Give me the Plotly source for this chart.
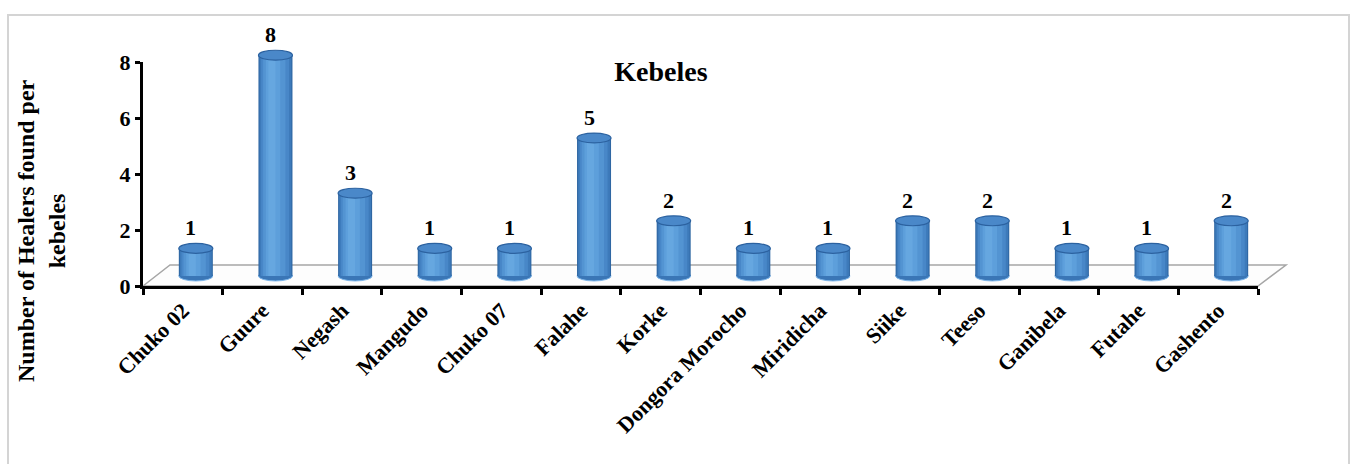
import plotly.graph_objects as go

categories = ["Chuko 02", "Guure", "Negash", "Mangudo", "Chuko 07", "Falahe", "Korke",
              "Dongora Morocho", "Miridicha", "Siike", "Teeso", "Ganibela", "Futahe", "Gashento"]
healers = [1, 8, 3, 1, 1, 5, 2, 1, 1, 2, 2, 1, 1, 2]
y_ticks = [0, 2, 4, 6, 8]
chart_title = "Kebeles"
y_title = "Number of Healers found per<br>kebeles"

W, H = 1351, 464


def px(x):
    return x / W


def py(y):
    return 1 - y / H


FONT = "Liberation Serif, Times New Roman, serif"
n = len(categories)
BAR_W = 0.427
CAP_H = 0.18

fig = go.Figure()

# invisible trace to build the visible categorical axis
fig.add_trace(go.Scatter(x=categories, y=[0] * n, mode="markers", marker=dict(opacity=0),
                         hoverinfo="skip", showlegend=False, xaxis="x", yaxis="y"))

# cylinder bodies: layered bars give a shaded look
layers = [(BAR_W, "#2f67a3", 0.0), (0.40, "#3d7aba", 0.0), (0.35, "#4887c8", -0.005),
          (0.28, "#5394d2", -0.015), (0.18, "#5d9fdb", -0.03), (0.09, "#66a7e0", -0.045)]
for w, c, off in layers:
    fig.add_trace(go.Bar(x=categories, y=healers, width=w, offset=-w / 2 + off,
                         marker=dict(color=c, line=dict(width=0)),
                         xaxis="x2", yaxis="y2", hoverinfo="skip", showlegend=False))

shapes = []
# outer border
shapes.append(dict(type="rect", xref="paper", yref="paper", x0=px(8), x1=px(1349),
                   y0=-0.1, y1=py(15), line=dict(color="#d4d4d4", width=2), layer="below"))
# floor plane
shapes.append(dict(type="path", xref="paper", yref="paper",
                   path=f"M {px(143)},{py(286)} L {px(170)},{py(265)} L {px(1286)},{py(265)} L {px(1258)},{py(286)} Z",
                   line=dict(color="#a6a6a6", width=1.5), fillcolor="#fdfdfd", layer="below"))

for i, v in enumerate(healers):
    # bottom ellipse of cylinder
    shapes.append(dict(type="circle", xref="x2", yref="y2", x0=i - BAR_W / 2, x1=i + BAR_W / 2,
                       y0=-CAP_H, y1=CAP_H, fillcolor="#3a76b6",
                       line=dict(color="#7db6ea", width=1), layer="below"))
    # top cap
    shapes.append(dict(type="circle", xref="x2", yref="y2", x0=i - BAR_W / 2, x1=i + BAR_W / 2,
                       y0=v - CAP_H, y1=v + CAP_H, fillcolor="#4a88c9",
                       line=dict(color="#2c62a0", width=1.2), layer="above"))

annotations = []
for i, v in enumerate(healers):
    annotations.append(dict(x=i, y=v, xref="x2", yref="y2", text=str(v), showarrow=False,
                            yanchor="bottom", xanchor="center", yshift=6, xshift=-5,
                            font=dict(family=FONT, size=22, color="black", weight="bold")))

annotations.append(dict(x=px(42), y=py(231), xref="paper", yref="paper", text=y_title,
                        textangle=-90, showarrow=False, xanchor="center", yanchor="middle",
                        font=dict(family=FONT, size=24, color="black", weight="bold")))

fig.update_layout(
    width=W, height=H,
    margin=dict(l=0, r=0, t=0, b=0),
    paper_bgcolor="white", plot_bgcolor="rgba(0,0,0,0)",
    title=dict(text=chart_title, x=px(661), y=py(71), xref="paper", yref="paper",
               xanchor="center", yanchor="middle",
               font=dict(family=FONT, size=28, color="black", weight="bold")),
    barmode="overlay",
    showlegend=False,
    shapes=shapes,
    annotations=annotations,
    xaxis=dict(domain=[px(143), px(1258)], type="category", range=[-0.5, n - 0.5],
               showline=True, linewidth=3, linecolor="black", showgrid=False, zeroline=False,
               ticks="outside", tickson="boundaries", ticklen=6, tickwidth=3, tickcolor="black",
               tickangle=-45, automargin=False, anchor="y",
               tickfont=dict(family=FONT, size=22, color="black", weight="bold")),
    yaxis=dict(domain=[py(286), py(62)], range=[0, 8], tickvals=y_ticks,
               showline=True, linewidth=3, linecolor="black", showgrid=False, zeroline=False,
               ticks="outside", ticklen=5, tickwidth=3, tickcolor="black", automargin=False,
               anchor="x",
               tickfont=dict(family=FONT, size=22, color="black", weight="bold")),
    xaxis2=dict(domain=[px(156), px(1271)], type="category", range=[-0.5, n - 0.5],
                visible=False, anchor="y2", fixedrange=True),
    yaxis2=dict(domain=[py(286), py(20)], range=[(276 - 286) / 27.6, (276 - 20) / 27.6],
                visible=False, anchor="x2", fixedrange=True),
)

fig.write_html("out.html")
